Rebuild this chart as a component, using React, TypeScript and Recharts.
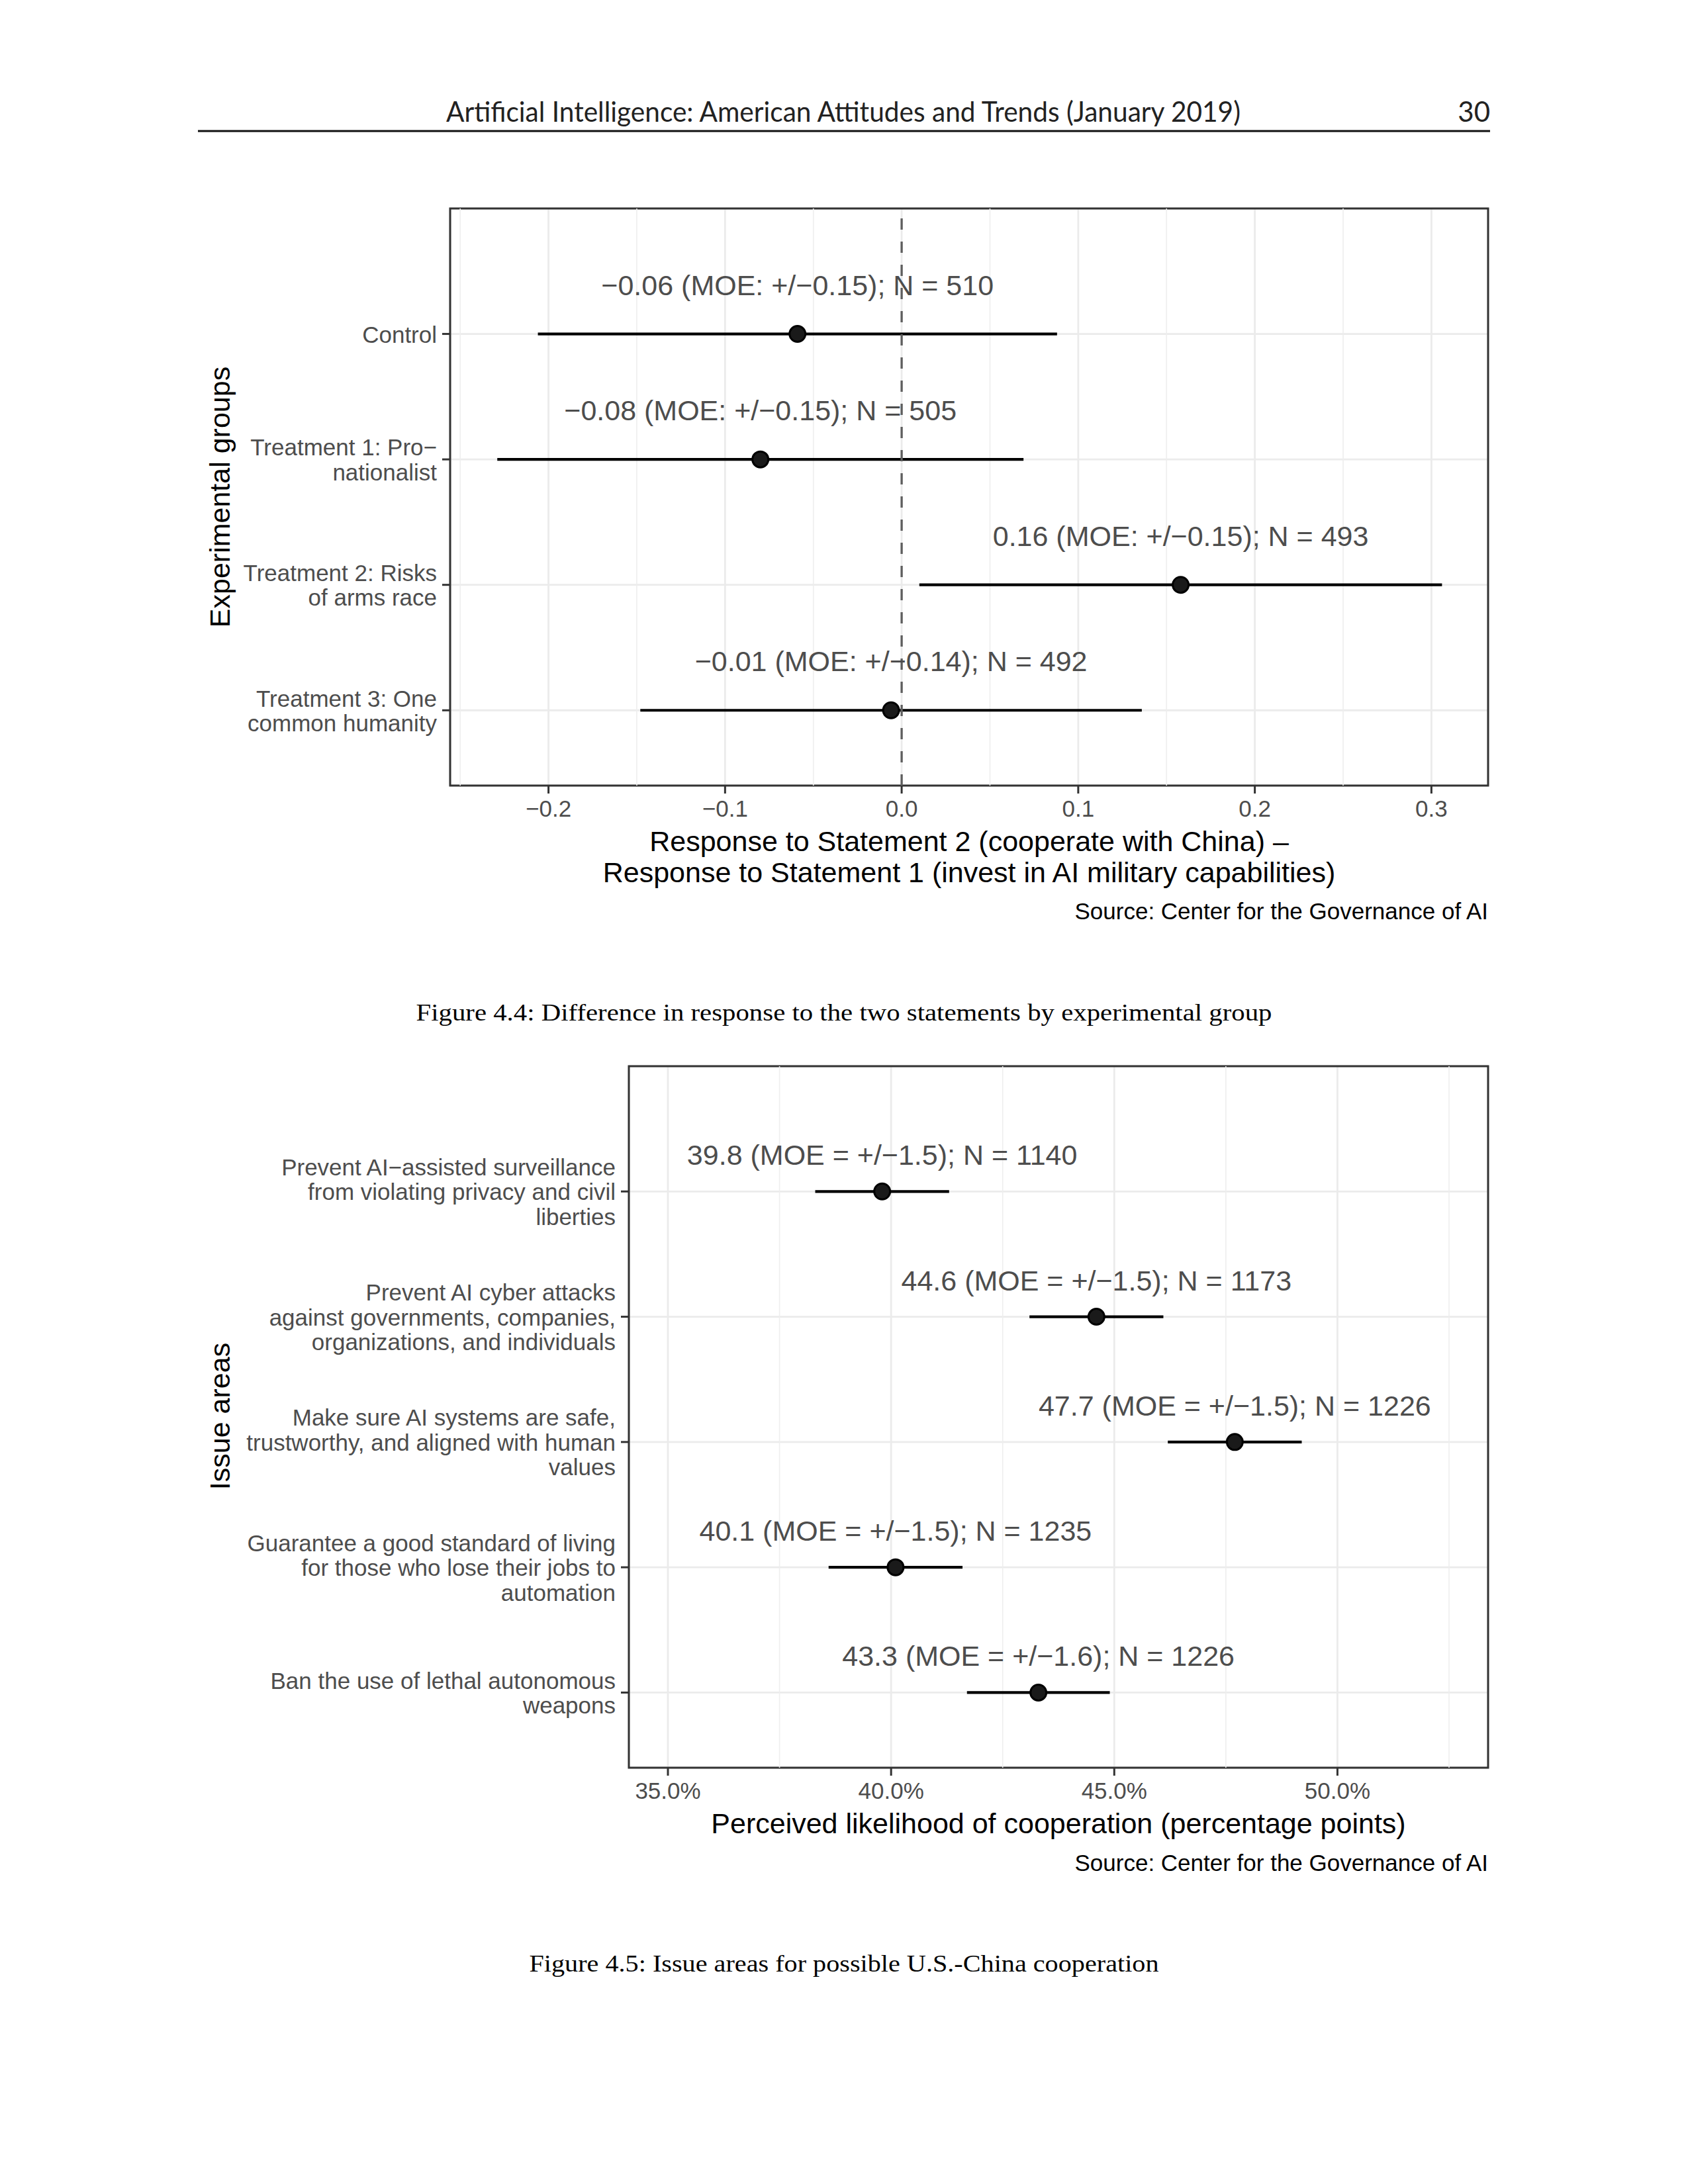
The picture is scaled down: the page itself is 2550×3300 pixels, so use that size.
import React from 'react';
import {
  ScatterChart,
  Scatter,
  XAxis,
  YAxis,
  CartesianGrid,
  ErrorBar,
  ReferenceLine,
  ReferenceArea,
} from 'recharts';

const SANS = '"Liberation Sans", Arial, Helvetica, sans-serif';
const SERIF = '"Liberation Serif", "Times New Roman", serif';

// Figure 4.4: difference between the two statements, by experimental group
const groupLabels = [
  ['Control'],
  ['Treatment 1: Pro\u2212', 'nationalist'],
  ['Treatment 2: Risks', 'of arms race'],
  ['Treatment 3: One', 'common humanity'],
];
const groupDiff = [-0.059, -0.080, 0.158, -0.006];
const groupMoe = [0.147, 0.149, 0.148, 0.142];
const groupNotes = [
  '\u22120.06 (MOE: +/\u22120.15); N = 510',
  '\u22120.08 (MOE: +/\u22120.15); N = 505',
  '0.16 (MOE: +/\u22120.15); N = 493',
  '\u22120.01 (MOE: +/\u22120.14); N = 492',
];
const diffTicks = [-0.2, -0.1, 0, 0.1, 0.2, 0.3];
const diffMinor = [-0.25, -0.15, -0.05, 0.05, 0.15, 0.25];

// Figure 4.5: issue areas for U.S.-China cooperation
const issueLabels = [
  ['Prevent AI\u2212assisted surveillance', 'from violating privacy and civil', 'liberties'],
  ['Prevent AI cyber attacks', 'against governments, companies,', 'organizations, and individuals'],
  ['Make sure AI systems are safe,', 'trustworthy, and aligned with human', 'values'],
  ['Guarantee a good standard of living', 'for those who lose their jobs to', 'automation'],
  ['Ban the use of lethal autonomous', 'weapons'],
];
const issueShare = [39.8, 44.6, 47.7, 40.1, 43.3];
const issueMoe = [1.5, 1.5, 1.5, 1.5, 1.6];
const issueNotes = [
  '39.8 (MOE = +/\u22121.5); N = 1140',
  '44.6 (MOE = +/\u22121.5); N = 1173',
  '47.7 (MOE = +/\u22121.5); N = 1226',
  '40.1 (MOE = +/\u22121.5); N = 1235',
  '43.3 (MOE = +/\u22121.6); N = 1226',
];
const shareTicks = [35, 40, 45, 50];
const shareMinor = [37.5, 42.5, 47.5, 52.5];

const makeDot = (offset: number) => (props: any) => {
  const { cx, cy, payload } = props;
  return (
    <g>
      <text
        x={cx}
        y={cy - offset}
        textAnchor="middle"
        dominantBaseline="central"
        fontSize={43}
        fill="#4D4D4D"
        fontFamily={SANS}
      >
        {payload.note}
      </text>
      <circle cx={cx} cy={cy} r={12} fill="#1A1A1A" stroke="#000" strokeWidth={3} />
    </g>
  );
};

const makeTick = (labels: string[][], lh: number) => (props: any) => {
  const { x, y, payload } = props;
  const lines = labels[payload.value] || [];
  const start = y - ((lines.length - 1) * lh) / 2;
  return (
    <text x={x} y={start} textAnchor="end" dominantBaseline="central" fontSize={35} fill="#4D4D4D" fontFamily={SANS}>
      {lines.map((t, i) => (
        <tspan key={i} x={x} y={start + i * lh} dominantBaseline="central">
          {t}
        </tspan>
      ))}
    </text>
  );
};

interface ForestProps {
  top: number;
  height: number;
  marginTop: number;
  axisWidth: number;
  axisHeight: number;
  rows: { x: number; y: number; err: number; note: string }[];
  xDomain: [number, number];
  yDomain: [number, number];
  xTicks: number[];
  minor: number[];
  labels: string[][];
  noteOffset: number;
  formatX: (v: number) => string;
  zeroLine?: boolean;
}

const Forest: React.FC<ForestProps> = (p) => {
  const yTicks = p.labels.map((_, i) => i);
  return (
    <div style={{ position: 'absolute', left: 0, top: p.top, width: 2550, height: p.height }}>
      <ScatterChart
        width={2550}
        height={p.height}
        margin={{ top: p.marginTop, right: 302, bottom: 0, left: 0 }}
      >
        <CartesianGrid stroke="#EBEBEB" strokeWidth={2.8} />
        {p.minor.map((v) => (
          <ReferenceLine key={v} x={v} stroke="#EEEEEE" strokeWidth={1.6} />
        ))}
        <XAxis
          type="number"
          dataKey="x"
          domain={p.xDomain}
          allowDataOverflow
          ticks={p.xTicks}
          interval={0}
          tickFormatter={p.formatX}
          height={p.axisHeight}
          axisLine={false}
          tickSize={12}
          tickMargin={10}
          tickLine={{ stroke: '#333333', strokeWidth: 3 }}
          tick={{ fill: '#4D4D4D', fontSize: 35, fontFamily: SANS }}
        />
        <YAxis
          type="number"
          dataKey="y"
          domain={p.yDomain}
          allowDataOverflow
          reversed
          ticks={yTicks}
          interval={0}
          width={p.axisWidth}
          axisLine={false}
          tickSize={12}
          tickMargin={8}
          tickLine={{ stroke: '#333333', strokeWidth: 3 }}
          tick={makeTick(p.labels, 37.5)}
        />
        <Scatter data={p.rows} shape={makeDot(p.noteOffset)} isAnimationActive={false}>
          <ErrorBar dataKey="err" direction="x" width={0} stroke="#000" strokeWidth={4.2} isAnimationActive={false} />
        </Scatter>
        {p.zeroLine && (
          <ReferenceLine x={0} stroke="#5E5E5E" strokeWidth={3.3} strokeDasharray="17 18" />
        )}
        <ReferenceArea
          x1={p.xDomain[0]}
          x2={p.xDomain[1]}
          y1={p.yDomain[0]}
          y2={p.yDomain[1]}
          fill="none"
          fillOpacity={0}
          stroke="#333333"
          strokeWidth={3}
        />
      </ScatterChart>
    </div>
  );
};

const App: React.FC = () => {
  const groupRows = groupDiff.map((x, i) => ({ x, y: i, err: groupMoe[i], note: groupNotes[i] }));
  const issueRows = issueShare.map((x, i) => ({ x, y: i, err: issueMoe[i], note: issueNotes[i] }));

  return (
    <div style={{ position: 'absolute', left: 0, top: 0, width: 2550, height: 3300, background: '#fff' }}>
      <svg width={2550} height={3300} style={{ position: 'absolute', left: 0, top: 0 }}>
        {/* running header */}
        <text x={1274} y={168} textAnchor="middle" dominantBaseline="central" fontSize={42} fill="#222"
          fontFamily='Lato, "Open Sans", sans-serif' textLength={1200} lengthAdjust="spacingAndGlyphs">
          Artificial Intelligence: American Attitudes and Trends (January 2019)
        </text>
        <text x={2251} y={168} textAnchor="end" dominantBaseline="central" fontSize={42} fill="#222"
          fontFamily='Lato, "Open Sans", sans-serif'>
          30
        </text>
        <line x1={299} x2={2251} y1={198} y2={198} stroke="#111" strokeWidth={3} />

        {/* figure 4.4 titles */}
        <text x={332} y={751} textAnchor="middle" dominantBaseline="central" fontSize={43} fill="#000"
          fontFamily={SANS} transform="rotate(-90 332 751)">
          Experimental groups
        </text>
        <text x={1464} y={1271} textAnchor="middle" dominantBaseline="central" fontSize={43} fill="#000" fontFamily={SANS}>
          Response to Statement 2 (cooperate with China) –
        </text>
        <text x={1464} y={1318} textAnchor="middle" dominantBaseline="central" fontSize={43} fill="#000" fontFamily={SANS}>
          Response to Statement 1 (invest in AI military capabilities)
        </text>
        <text x={2248} y={1376} textAnchor="end" dominantBaseline="central" fontSize={35} fill="#000" fontFamily={SANS}>
          Source: Center for the Governance of AI
        </text>
        <text x={1275} y={1530} textAnchor="middle" dominantBaseline="central" fontSize={36} fill="#000"
          fontFamily={SERIF} textLength={1293} lengthAdjust="spacingAndGlyphs">
          Figure 4.4: Difference in response to the two statements by experimental group
        </text>

        {/* figure 4.5 titles */}
        <text x={332} y={2140} textAnchor="middle" dominantBaseline="central" fontSize={43} fill="#000"
          fontFamily={SANS} transform="rotate(-90 332 2140)">
          Issue areas
        </text>
        <text x={1599} y={2755} textAnchor="middle" dominantBaseline="central" fontSize={43} fill="#000" fontFamily={SANS}>
          Perceived likelihood of cooperation (percentage points)
        </text>
        <text x={2248} y={2814} textAnchor="end" dominantBaseline="central" fontSize={35} fill="#000" fontFamily={SANS}>
          Source: Center for the Governance of AI
        </text>
        <text x={1275} y={2967} textAnchor="middle" dominantBaseline="central" fontSize={36} fill="#000"
          fontFamily={SERIF} textLength={951} lengthAdjust="spacingAndGlyphs">
          Figure 4.5: Issue areas for possible U.S.-China cooperation
        </text>
      </svg>

      <Forest
        top={0}
        height={1300}
        marginTop={315}
        axisWidth={680}
        axisHeight={113}
        rows={groupRows}
        xDomain={[-0.2557, 0.3321]}
        yDomain={[-1, 3.6]}
        xTicks={diffTicks}
        minor={diffMinor}
        labels={groupLabels}
        noteOffset={74}
        formatX={(v) => (v < 0 ? '\u2212' : '') + Math.abs(v).toFixed(1)}
        zeroLine
      />
      <Forest
        top={1500}
        height={1300}
        marginTop={111}
        axisWidth={950}
        axisHeight={129}
        rows={issueRows}
        xDomain={[34.125, 53.375]}
        yDomain={[-1, 4.6]}
        xTicks={shareTicks}
        minor={shareMinor}
        labels={issueLabels}
        noteOffset={55}
        formatX={(v) => v.toFixed(1) + '%'}
      />
    </div>
  );
};

export default App;
